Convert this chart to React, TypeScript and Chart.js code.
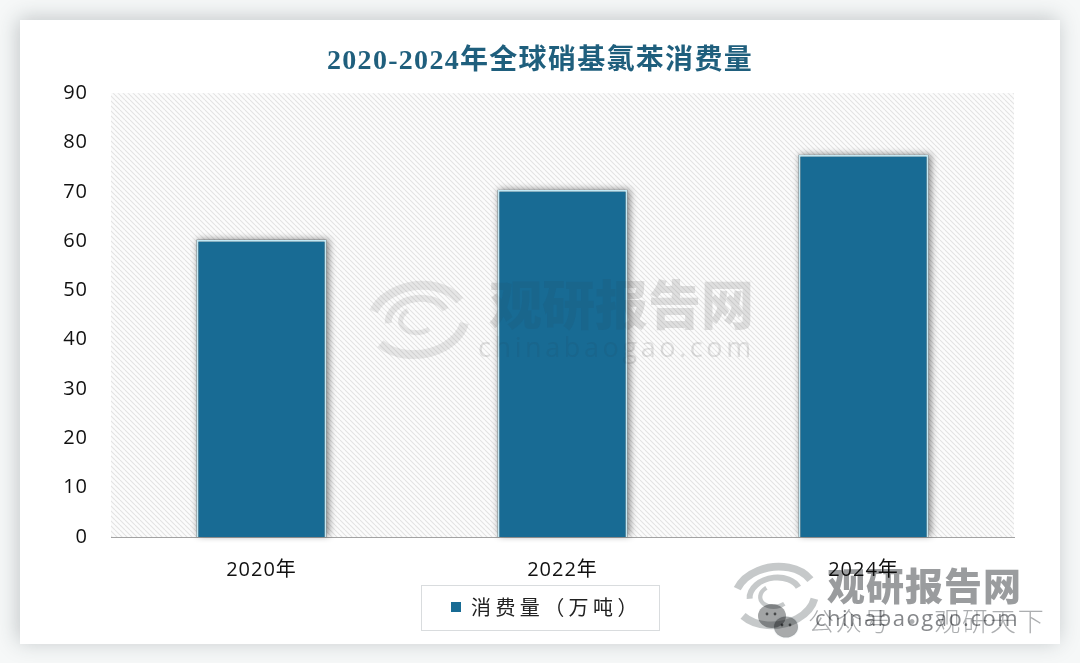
import React, { useEffect, useRef } from "react";
import { Chart, registerables } from "chart.js";

Chart.register(...registerables);

const categories = ["2020年", "2022年", "2024年"];
const consumption = [60.3, 70.4, 77.5];
const seriesName = "消费量（万吨）";
const chartTitle = "2020-2024年全球硝基氯苯消费量";
const watermarkName = "观研报告网";
const watermarkSite = "chinabaogao.com";
const watermarkAccount = "公众号 · 观研天下";

const SANS = '"Open Sans", "Noto Sans CJK SC", sans-serif';
const CJK = '"Noto Sans CJK SC", "Noto Sans", sans-serif';
const BAR = "#186b94";

function makeHatch(ctx: CanvasRenderingContext2D) {
  const c = document.createElement("canvas");
  c.width = 5;
  c.height = 5;
  const p = c.getContext("2d")!;
  p.fillStyle = "#fcfcfc";
  p.fillRect(0, 0, 5, 5);
  p.strokeStyle = "#e3e3e3";
  p.lineWidth = 1.1;
  for (let i = -5; i <= 10; i += 5) {
    p.beginPath();
    p.moveTo(i, 0);
    p.lineTo(i + 5, 5);
    p.stroke();
  }
  return ctx.createPattern(c, "repeat")!;
}

function drawLogo(ctx: CanvasRenderingContext2D, cx: number, cy: number, s: number, color: string) {
  ctx.save();
  ctx.translate(cx, cy);
  ctx.strokeStyle = color;
  ctx.lineCap = "butt";
  const arcs: [number, number, number, number][] = [
    [38, 3.6, 5.9, 9],
    [38, 0.3, 2.6, 9],
    [24, 3.2, 6.0, 7],
    [14, 1.0, 4.2, 5],
  ];
  for (const [r, a, b, w] of arcs) {
    ctx.lineWidth = w * s;
    ctx.beginPath();
    ctx.ellipse(0, 0, r * s * 1.25, r * s * 0.9, -0.15, a, b);
    ctx.stroke();
  }
  ctx.restore();
}

function drawWeChat(ctx: CanvasRenderingContext2D, x: number, y: number) {
  ctx.save();
  ctx.fillStyle = "#a2a4a5";
  ctx.beginPath();
  ctx.ellipse(x - 6, y - 4, 14, 12, 0, 0, Math.PI * 2);
  ctx.fill();
  ctx.strokeStyle = "#f7f9fa";
  ctx.lineWidth = 2;
  ctx.fillStyle = "#a8aaab";
  ctx.beginPath();
  ctx.ellipse(x + 8, y + 7, 12, 10.5, 0, 0, Math.PI * 2);
  ctx.fill();
  ctx.stroke();
  ctx.fillStyle = "#6f7172";
  for (const [dx, dy] of [[-11, -6], [-3, -6], [4, 5], [12, 5]]) {
    ctx.beginPath();
    ctx.arc(x + dx, y + dy, 1.4, 0, Math.PI * 2);
    ctx.fill();
  }
  ctx.restore();
}

function drawCentreText(ctx: CanvasRenderingContext2D) {
  ctx.textBaseline = "middle";
  ctx.textAlign = "left";
  ctx.font = `900 53px ${CJK}`;
  ctx.fillText(watermarkName, 489, 305);
  ctx.font = `400 27px ${SANS}`;
  (ctx as any).letterSpacing = "3.6px";
  ctx.fillText(watermarkSite, 478, 349);
}

const decorPlugin = {
  id: "decor",
  beforeDraw(chart: any) {
    const { ctx, chartArea: a, width, height } = chart;
    ctx.save();
    ctx.fillStyle = "#f6f8f8";
    ctx.fillRect(0, 0, width, height);
    ctx.shadowColor = "rgba(40,50,60,0.25)";
    ctx.shadowBlur = 20;
    ctx.shadowOffsetX = -2;
    ctx.shadowOffsetY = -2;
    ctx.fillStyle = "#ffffff";
    ctx.fillRect(20, 20, 1040, 624);
    ctx.restore();

    ctx.save();
    ctx.fillStyle = makeHatch(ctx);
    ctx.fillRect(a.left, a.top, a.right - a.left, a.bottom - a.top);
    ctx.restore();

    ctx.save();
    drawLogo(ctx, 418, 320, 1.0, "rgba(120,120,120,0.16)");
    ctx.fillStyle = "rgba(110,110,110,0.2)";
    drawCentreText(ctx);
    ctx.restore();

    const legend = chart.legend;
    if (legend && !legend.__tracked) {
      legend.__tracked = true;
      const orig = legend.draw.bind(legend);
      legend.draw = function () {
        const cx = width / 2;
        ctx.save();
        ctx.strokeStyle = "#d9dcde";
        ctx.lineWidth = 1;
        ctx.strokeRect(cx - 118.5, legend.top - 0.5, 238, 45);
        const hit = legend.legendHitBoxes[0];
        ctx.translate(cx - (hit.left + hit.width / 2) - 9, 0);
        (ctx as any).letterSpacing = "4.4px";
        orig();
        ctx.restore();
      };
    }
    const title = chart.titleBlock;
    if (title && !title.__tracked) {
      title.__tracked = true;
      const origT = title.draw.bind(title);
      title.draw = function () {
        ctx.save();
        ctx.translate(width / 2 - (title.left + title.right) / 2, 0);
        (ctx as any).letterSpacing = "1.3px";
        origT();
        ctx.restore();
      };
    }
    (ctx as any).letterSpacing = "1px";
  },
  beforeDatasetsDraw(chart: any) {
    const { ctx } = chart;
    (ctx as any).letterSpacing = "0px";
    ctx.save();
    ctx.shadowColor = "rgba(0,0,0,0.48)";
    ctx.shadowBlur = 7;
    ctx.shadowOffsetX = 2;
    ctx.shadowOffsetY = -1;
    ctx.fillStyle = "#666";
    chart.getDatasetMeta(0).data.forEach((bar: any) => {
      const w = bar.width;
      ctx.fillRect(bar.x - w / 2, bar.y, w, bar.base - bar.y);
    });
    ctx.restore();
  },
  afterDatasetsDraw(chart: any) {
    const { ctx } = chart;
    ctx.save();
    ctx.beginPath();
    chart.getDatasetMeta(0).data.forEach((bar: any) => {
      ctx.rect(bar.x - bar.width / 2 + 1, bar.y + 1, bar.width - 2, bar.base - bar.y - 1);
    });
    ctx.clip();
    ctx.fillStyle = "rgba(40,60,80,0.1)";
    drawCentreText(ctx);
    ctx.restore();
    (ctx as any).letterSpacing = "1px";
  },
  afterDraw(chart: any) {
    const { ctx } = chart;
    ctx.save();
    ctx.globalCompositeOperation = "multiply";
    drawLogo(ctx, 775, 596, 0.85, "#c6c9ca");
    ctx.fillStyle = "#9a9c9e";
    ctx.font = `900 38px ${CJK}`;
    ctx.textBaseline = "middle";
    ctx.textAlign = "left";
    ctx.fillText(watermarkName, 827, 586);
    drawWeChat(ctx, 778, 620);
    ctx.fillStyle = "#acaeb0";
    ctx.font = `300 26px ${CJK}`;
    (ctx as any).letterSpacing = "1.8px";
    ctx.fillText(watermarkAccount, 808, 621);
    ctx.fillStyle = "#85878a";
    ctx.font = `400 22px ${SANS}`;
    (ctx as any).letterSpacing = "1.5px";
    ctx.fillText(watermarkSite, 815, 620);
    ctx.restore();
  },
};

export default function App() {
  const ref = useRef<HTMLCanvasElement>(null);
  useEffect(() => {
    const chart = new Chart(ref.current!, {
      type: "bar",
      data: {
        labels: categories,
        datasets: [
          {
            label: seriesName,
            data: consumption,
            backgroundColor: BAR,
            borderColor: "#c4e8f3",
            borderWidth: { top: 2, left: 2, right: 2, bottom: 0 },
            categoryPercentage: 0.9,
            barPercentage: 0.48,
          },
        ],
      },
      options: {
        responsive: false,
        animation: false,
        devicePixelRatio: 1,
        layout: { padding: { left: 0, right: 66, top: 46, bottom: 36 } },
        plugins: {
          tooltip: { enabled: false },
          title: {
            display: true,
            text: chartTitle,
            color: "#1f5f7d",
            font: { family: '"Liberation Serif", "Noto Sans CJK SC", serif', size: 28, weight: "bold", lineHeight: 1.15 },
            padding: { top: 0, bottom: 15 },
          },
          legend: {
            display: true,
            position: "bottom",
            labels: {
              color: "#222222",
              font: { family: CJK, size: 20 },
              usePointStyle: true,
              pointStyle: "rect",
              boxWidth: 10,
              boxHeight: 10,
              padding: 11,
              generateLabels(c: any) {
                return Chart.defaults.plugins.legend.labels.generateLabels(c).map((l: any) => ({
                  ...l,
                  strokeStyle: BAR,
                  lineWidth: 0,
                }));
              },
            },
          },
        },
        scales: {
          x: {
            grid: { display: false, drawTicks: false },
            border: { display: true, color: "#a3a3a3", width: 1 },
            ticks: { color: "#111111", font: { family: SANS, size: 20 }, padding: 21, maxRotation: 0 },
            afterFit(scale: any) {
              scale.height = 49;
            },
          },
          y: {
            min: 0,
            max: 90,
            grid: { display: false, drawTicks: false },
            border: { display: false },
            ticks: { stepSize: 10, color: "#111111", font: { family: SANS, size: 20 }, padding: 23 },
            afterFit(scale: any) {
              scale.width = 111;
            },
          },
        },
      },
      plugins: [decorPlugin],
    } as any);
    return () => chart.destroy();
  }, []);
  return (
    <div style={{ position: "fixed", left: 0, top: 0, width: 1080, height: 663 }}>
      <canvas ref={ref} width={1080} height={663} style={{ display: "block" }} />
    </div>
  );
}
